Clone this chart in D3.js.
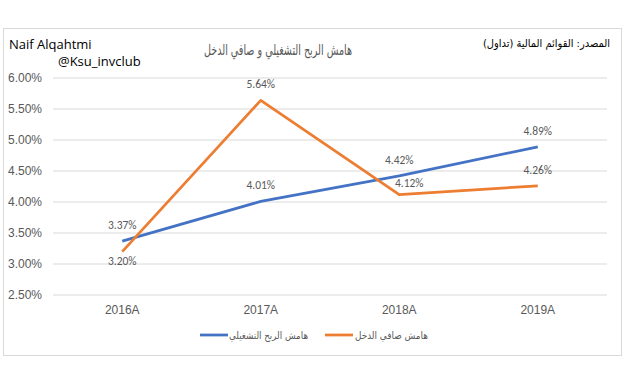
<!DOCTYPE html>
<html>
<head>
<meta charset="utf-8">
<script src="https://cdn.jsdelivr.net/npm/d3@7"></script>
<style>
  body { margin: 0; background: #fff; }
  svg { font-family: Calibri, Carlito, "Liberation Sans", Arial, sans-serif; }
</style>
</head>
<body>
<div id="chart"></div>
<script>
// data
var years = ["2016A", "2017A", "2018A", "2019A"];
var operatingMargin = [3.37, 4.01, 4.42, 4.89];
var netMargin = [3.20, 5.64, 4.12, 4.26];
var yTicks = [2.5, 3.0, 3.5, 4.0, 4.5, 5.0, 5.5, 6.0];
var seriesNames = ["هامش الربح التشغيلي", "هامش صافي الدخل"];

var W = 624, H = 369;
var margin = {top: 78, right: 17, bottom: 74, left: 53};
var width = W - margin.left - margin.right,
    height = H - margin.top - margin.bottom;

var svg = d3.select("#chart").append("svg")
    .attr("width", W)
    .attr("height", H);

// outer border
svg.append("rect")
    .attr("x", 3.5).attr("y", 28.5)
    .attr("width", 618).attr("height", 327)
    .attr("fill", "#fff")
    .attr("stroke", "#d9d9d9");

var g = svg.append("g")
    .attr("transform", "translate(" + margin.left + "," + margin.top + ")");

var x = d3.scaleBand().domain(years).range([0, width]);
var y = d3.scaleLinear().domain([2.5, 6.0]).range([height, 0]);

// gridlines
g.selectAll(".grid")
    .data(yTicks)
  .enter().append("line")
    .attr("x1", 0).attr("x2", width)
    .attr("y1", function(d) { return y(d); })
    .attr("y2", function(d) { return y(d); })
    .attr("stroke", "#d9d9d9")
    .attr("stroke-width", 1);

// y axis
var yAxis = g.append("g")
    .call(d3.axisLeft(y).tickValues(yTicks).tickSize(0)
      .tickFormat(function(d) { return d.toFixed(2) + "%"; }));
yAxis.select(".domain").remove();
yAxis.selectAll("text").attr("fill", "#595959").style("font-size", "12px")
    .attr("x", -11);

// x axis
var xAxis = g.append("g")
    .attr("transform", "translate(0," + height + ")")
    .call(d3.axisBottom(x).tickSize(0).tickPadding(10));
xAxis.select(".domain").remove();
xAxis.selectAll("text").attr("fill", "#595959").style("font-size", "12px");

var colors = ["#4472C4", "#ED7D31"];
var series = [operatingMargin, netMargin];

var line = d3.line()
    .x(function(d, i) { return x(years[i]) + x.bandwidth() / 2; })
    .y(function(d) { return y(d); });

series.forEach(function(s, k) {
  g.append("path")
      .datum(s)
      .attr("fill", "none")
      .attr("stroke", colors[k])
      .attr("stroke-width", 2.75)
      .attr("stroke-linejoin", "round")
      .attr("d", line);
});

// data label offsets (dx, dy) from each point
var labelOffsets = [
  [[0, -12], [0, -12], [0, -12], [0, -12]],
  [[0, 13], [0, -12], [10, -8], [0, -12]]
];
series.forEach(function(s, k) {
  g.selectAll(".lbl" + k)
      .data(s)
    .enter().append("text")
      .attr("x", function(d, i) { return x(years[i]) + x.bandwidth() / 2 + labelOffsets[k][i][0]; })
      .attr("y", function(d, i) { return y(d) + labelOffsets[k][i][1]; })
      .attr("text-anchor", "middle")
      .attr("fill", "#595959")
      .style("font-size", "11.5px")
      .text(function(d) { return d.toFixed(2) + "%"; });
});

// title
svg.append("text")
    .attr("x", 204).attr("y", 55)
    .attr("fill", "#595959")
    .style("font-family", "'DejaVu Sans', sans-serif")
    .style("font-size", "15px")
    .attr("textLength", 148)
    .attr("lengthAdjust", "spacingAndGlyphs")
    .text("هامش الربح التشغيلي و صافي الدخل");

svg.append("text")
    .attr("x", 9).attr("y", 49)
    .attr("fill", "#000")
    .style("font-family", "'Open Sans', sans-serif")
    .style("font-size", "13px")
    .text("Naif Alqahtmi");

svg.append("text")
    .attr("x", 58).attr("y", 66)
    .attr("fill", "#000")
    .style("font-family", "'Open Sans', sans-serif")
    .style("font-size", "13px")
    .text("@Ksu_invclub");

svg.append("text")
    .attr("x", 483).attr("y", 47)
    .attr("fill", "#000")
    .style("font-size", "11px")
    .style("font-family", "'DejaVu Sans', sans-serif")
    .attr("textLength", 127)
    .attr("lengthAdjust", "spacingAndGlyphs")
    .text("المصدر: القوائم المالية (تداول)");

// legend
var legendPos = [{lx: 200, tx: 229, tw: 79}, {lx: 325, tx: 355, tw: 73}];
legendPos.forEach(function(p, k) {
  svg.append("line")
      .attr("x1", p.lx).attr("x2", p.lx + 28)
      .attr("y1", 335).attr("y2", 335)
      .attr("stroke", colors[k])
      .attr("stroke-width", 2.75);
  svg.append("text")
      .attr("x", p.tx).attr("y", 339)
      .attr("fill", "#595959")
      .style("font-size", "10px")
      .style("font-family", "'DejaVu Sans', sans-serif")
      .attr("textLength", p.tw)
      .attr("lengthAdjust", "spacingAndGlyphs")
      .text(seriesNames[k]);
});
</script>
</body>
</html>
